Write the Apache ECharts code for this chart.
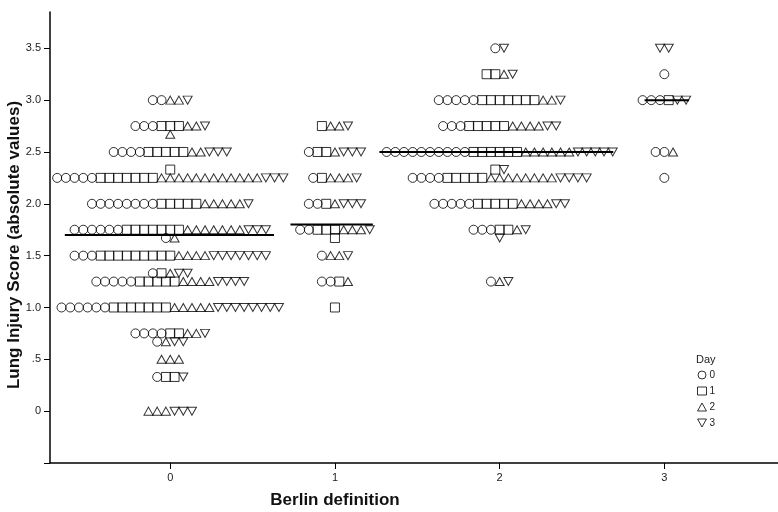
<!DOCTYPE html>
<html>
<head>
<meta charset="utf-8">
<script src="https://cdn.jsdelivr.net/npm/echarts@6/dist/echarts.min.js"></script>
<style>html,body{margin:0;padding:0;background:#fff}#c{width:778px;height:512px}</style>
</head>
<body>
<div id="c"></div>
<script>
// Rows per Berlin group: [score, n day0 (circle), n day1 (square), n day2 (triangle), n day3 (down triangle)]
const berlin0 = [
  [3.00, 2, 0, 2, 1],
  [2.75, 3, 3, 2, 1],
  [2.67, 0, 0, 1, 0],
  [2.50, 4, 5, 2, 3],
  [2.33, 0, 1, 0, 0],
  [2.25, 5, 7, 12, 3],
  [2.00, 8, 5, 5, 1],
  [1.75, 6, 7, 7, 3],
  [1.67, 1, 0, 1, 0],
  [1.50, 3, 9, 4, 7],
  [1.33, 1, 1, 1, 2],
  [1.25, 5, 5, 4, 4],
  [1.00, 6, 7, 5, 8],
  [0.75, 4, 2, 2, 1],
  [0.67, 1, 0, 1, 2],
  [0.50, 0, 0, 3, 0],
  [0.33, 1, 2, 0, 1],
  [0.00, 0, 0, 3, 3]
];
const berlin1 = [
  [2.75, 0, 1, 2, 1],
  [2.50, 1, 2, 1, 3],
  [2.25, 1, 1, 3, 1],
  [2.00, 2, 1, 1, 3],
  [1.75, 2, 3, 3, 1],
  [1.67, 0, 1, 0, 0],
  [1.50, 1, 0, 2, 1],
  [1.25, 2, 1, 1, 0],
  [1.00, 0, 1, 0, 0]
];
const berlin2 = [
  [3.50, 1, 0, 0, 1],
  [3.25, 0, 2, 1, 1],
  [3.00, 5, 7, 2, 1],
  [2.75, 3, 5, 4, 2],
  [2.50, 10, 6, 6, 5],
  [2.33, 0, 1, 0, 1],
  [2.25, 4, 5, 8, 4],
  [2.00, 5, 5, 4, 2],
  [1.75, 3, 2, 1, 1],
  [1.67, 0, 0, 0, 1],
  [1.25, 1, 0, 1, 1]
];
const berlin3 = [
  [3.50, 0, 0, 0, 2],
  [3.25, 1, 0, 0, 0],
  [3.00, 3, 1, 0, 2],
  [2.50, 2, 0, 1, 0],
  [2.25, 1, 0, 0, 0]
];
const groupRows = [berlin0, berlin1, berlin2, berlin3];

// Median reference line per group (score) and its horizontal extent (in Berlin-axis units)
const medians    = [1.70, 1.80, 2.50, 3.00];
const medianFrom = [-0.64, 0.73, 1.27, 2.88];
const medianTo   = [0.63, 1.23, 2.69, 3.15];

const dayNames = ['0', '1', '2', '3'];
const xTicks = [0, 1, 2, 3];
const yTicks = [0, 0.5, 1, 1.5, 2, 2.5, 3, 3.5];

// ---- layout ----
const X_MIN = -0.73, X_MAX = 3.69;
const STEP = 0.0528; // horizontal stacking step of dots (axis units)

const dayData = [[], [], [], []];
groupRows.forEach((rows, g) => {
  rows.forEach(r => {
    const y = r[0];
    const counts = r.slice(1);
    const n = counts.reduce((a, b) => a + b, 0);
    let k = 0;
    counts.forEach((cnt, d) => {
      for (let i = 0; i < cnt; i++) {
        dayData[d].push([g + (k - (n - 1) / 2) * STEP, y]);
        k++;
      }
    });
  });
});

const symbols = ['circle', 'rect', 'path://M5,0 L10,9 L0,9 Z', 'path://M0,0 L10,0 L5,9 Z'];
const sizes = [9, 9, [9, 8], [9, 8]];

const series = dayNames.map((name, d) => ({
  name: name,
  type: 'scatter',
  data: dayData[d],
  symbol: symbols[d],
  symbolSize: sizes[d],
  itemStyle: { color: 'rgba(255,255,255,0)', borderColor: '#000', borderWidth: 1 },
  emphasis: { disabled: true },
  z: 3
}));
medians.forEach((m, g) => {
  series.push({
    name: 'median' + g,
    type: 'line',
    data: [[medianFrom[g], m], [medianTo[g], m]],
    symbol: 'none',
    lineStyle: { color: '#000', width: 2 },
    silent: true,
    z: 4
  });
});

const chart = echarts.init(document.getElementById('c'), null, { renderer: 'canvas' });
chart.setOption({
  animation: false,
  backgroundColor: '#fff',
  grid: { left: 50, right: 0, top: 12, bottom: 49, containLabel: false },
  xAxis: {
    type: 'value', min: X_MIN, max: X_MAX,
    axisLine: { show: true, onZero: false, lineStyle: { color: '#000', width: 1.5 } },
    axisTick: { show: true, length: 6, customValues: xTicks, lineStyle: { color: '#000' } },
    axisLabel: { customValues: xTicks, margin: 9, fontFamily: 'Liberation Sans, Arial', fontSize: 11, color: '#222' },
    splitLine: { show: false }
  },
  yAxis: {
    type: 'value', min: -0.5, max: 3.85,
    axisLine: { show: true, onZero: false, lineStyle: { color: '#000', width: 1.5 } },
    axisTick: { show: true, length: 6, customValues: [-0.5].concat(yTicks), lineStyle: { color: '#000' } },
    axisLabel: {
      customValues: yTicks, margin: 9, fontFamily: 'Liberation Sans, Arial', fontSize: 11, color: '#222',
      formatter: v => v === 0 ? '0' : (v < 1 ? ('' + v.toFixed(1)).replace(/^0/, '') : v.toFixed(1))
    },
    splitLine: { show: false }
  },
  legend: {
    data: dayNames,
    orient: 'vertical',
    left: 697, top: 370,
    itemWidth: 9, itemHeight: 8, itemGap: 6,
    padding: 0,
    itemStyle: { borderWidth: 1 },
    textStyle: { fontFamily: 'Liberation Sans, Arial', fontSize: 10, color: '#222', padding: [3, 0, 0, -2] },
    selectedMode: false
  },
  graphic: [
    { type: 'text', left: 696, top: 354, style: { text: 'Day', font: '11px "Liberation Sans", Arial', fill: '#222' } },
    { type: 'text', x: 335, y: 500, style: { text: 'Berlin definition', font: 'bold 17px "Liberation Sans", Arial', fill: '#111', textAlign: 'center', textVerticalAlign: 'middle' } },
    { type: 'text', x: 14, y: 245, rotation: Math.PI / 2, style: { text: 'Lung Injury Score (absolute values)', font: 'bold 17px "Liberation Sans", Arial', fill: '#111', textAlign: 'center', textVerticalAlign: 'middle' } }
  ],
  series: series
});
</script>
</body>
</html>
